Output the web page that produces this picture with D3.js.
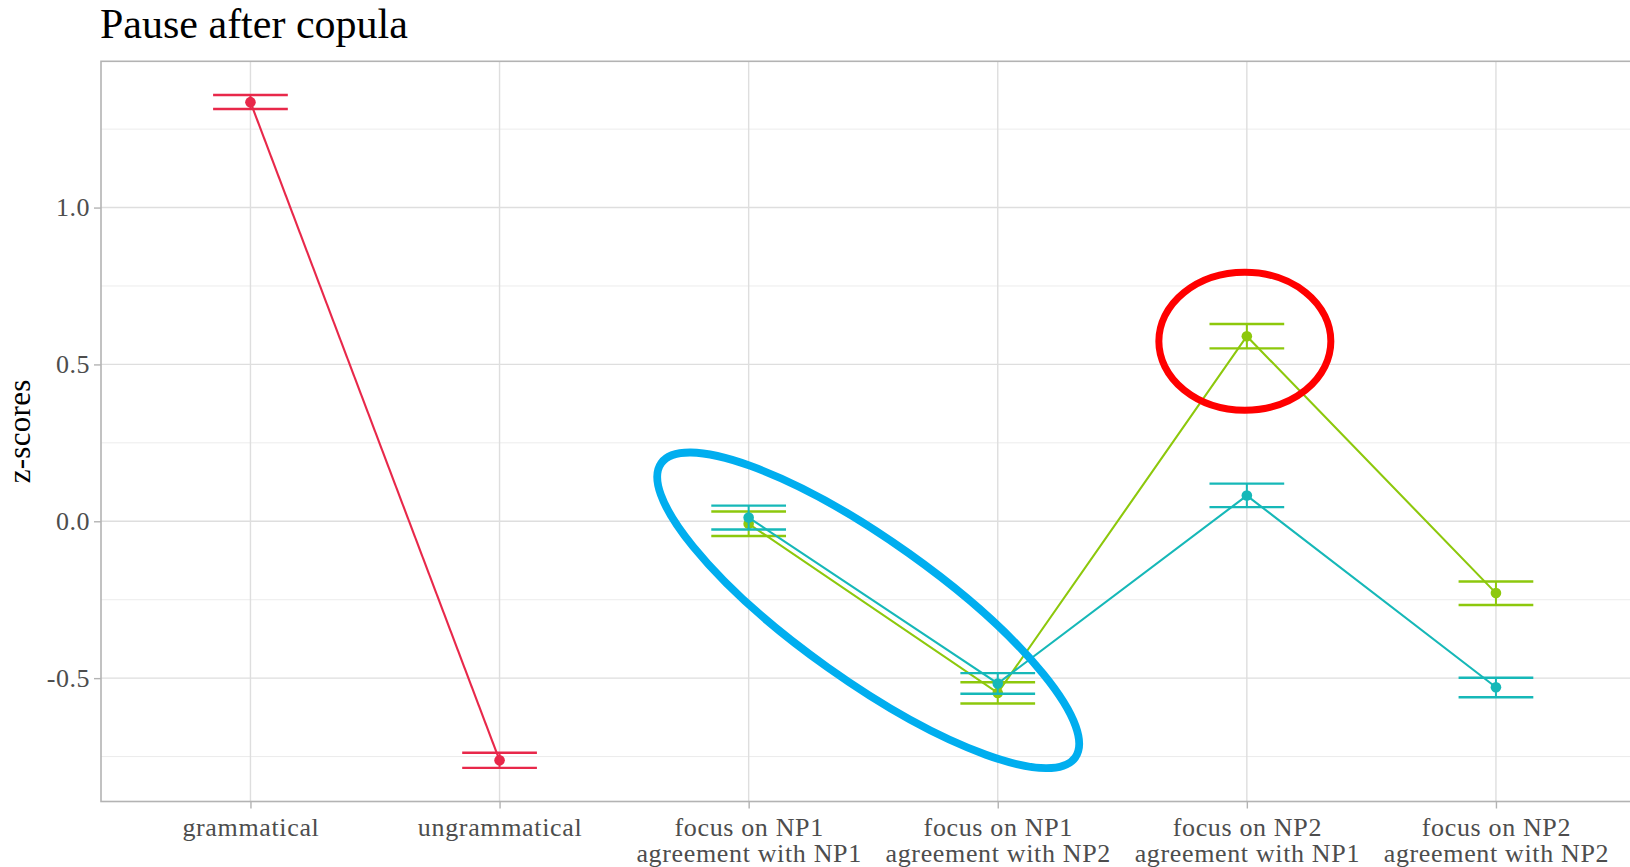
<!DOCTYPE html>
<html>
<head>
<meta charset="utf-8">
<script src="https://cdn.jsdelivr.net/npm/d3@7"></script>
<style>
  html, body { margin: 0; padding: 0; background: #fff; }
  svg { display: block; }
  text { font-family: "Liberation Serif", "DejaVu Serif", serif; }
</style>
</head>
<body>
<svg id="chart" width="1630" height="867"></svg>
<script>
// Conditions along the x axis (second line after "\n")
const categories = [
  "grammatical",
  "ungrammatical",
  "focus on NP1\nagreement with NP1",
  "focus on NP1\nagreement with NP2",
  "focus on NP2\nagreement with NP1",
  "focus on NP2\nagreement with NP2"
];

// Control conditions (red)
const controlCats  = [categories[0], categories[1]];
const controlMean  = [1.336, -0.762];
const controlLower = [1.314, -0.786];
const controlUpper = [1.359, -0.738];

// Experimental conditions
const expCats = categories.slice(2);
const greenMean  = [-0.008, -0.547, 0.590, -0.229];
const greenLower = [-0.047, -0.581, 0.551, -0.267];
const greenUpper = [ 0.031, -0.513, 0.629, -0.192];

const tealMean  = [ 0.012, -0.517, 0.082, -0.529];
const tealLower = [-0.026, -0.550, 0.045, -0.561];
const tealUpper = [ 0.050, -0.484, 0.120, -0.499];

const yTicks = [-0.5, 0.0, 0.5, 1.0];
const yMinor = [-0.75, -0.25, 0.25, 0.75, 1.25];

const colors = { control: "#E8284A", green: "#8DC80C", teal: "#16B8B8" };

function rows(cats, mean, lower, upper) {
  return cats.map((c, i) => ({ cat: c, mean: mean[i], lower: lower[i], upper: upper[i] }));
}
const series = [
  { key: "control", color: colors.control, data: rows(controlCats, controlMean, controlLower, controlUpper) },
  { key: "green",   color: colors.green,   data: rows(expCats, greenMean, greenLower, greenUpper) },
  { key: "teal",    color: colors.teal,    data: rows(expCats, tealMean, tealLower, tealUpper) }
];

const svg = d3.select("#chart");
const W = 1630;
const panel = { left: 101, top: 61.3, bottom: 801.5, right: 1645.4 };

// Discrete x with 0.6 step expansion on each side
const x = d3.scalePoint().domain(categories).range([panel.left, panel.right]).padding(0.6);

// y domain: full extent of intervals, expanded by 5%
const all = series.flatMap(s => s.data);
const lo = d3.min(all, d => d.lower), hi = d3.max(all, d => d.upper);
const pad = (hi - lo) * 0.05;
const y = d3.scaleLinear().domain([lo - pad, hi + pad]).range([panel.bottom, panel.top]);

const g = svg.append("g");

// grid
g.selectAll("line.ymin").data(yMinor).join("line")
  .attr("x1", panel.left).attr("x2", W)
  .attr("y1", d => y(d)).attr("y2", d => y(d))
  .attr("stroke", "#ececec").attr("stroke-width", 1);
g.selectAll("line.ymaj").data(yTicks).join("line")
  .attr("x1", panel.left).attr("x2", W)
  .attr("y1", d => y(d)).attr("y2", d => y(d))
  .attr("stroke", "#dedede").attr("stroke-width", 1.4);
g.selectAll("line.xmaj").data(categories).join("line")
  .attr("x1", d => x(d)).attr("x2", d => x(d))
  .attr("y1", panel.top).attr("y2", panel.bottom)
  .attr("stroke", "#dedede").attr("stroke-width", 1.4);

// panel border
g.append("rect")
  .attr("x", panel.left).attr("y", panel.top)
  .attr("width", panel.right - panel.left).attr("height", panel.bottom - panel.top)
  .attr("fill", "none").attr("stroke", "#b3b3b3").attr("stroke-width", 1.6);

// axes
const yAxis = d3.axisLeft(y).tickValues(yTicks).tickSize(7).tickPadding(4)
  .tickFormat(d => d3.format(".1f")(d).replace("−", "-"));
const ya = g.append("g").attr("transform", `translate(${panel.left},0)`).call(yAxis);
ya.select(".domain").remove();
ya.selectAll(".tick line").attr("stroke", "#b3b3b3").attr("stroke-width", 1.4);
ya.selectAll(".tick text")
  .attr("fill", "#4d4d4d").style("font-size", "26px").style("letter-spacing", "0.5px")
  .style("font-family", '"Liberation Serif", serif');

const xAxis = d3.axisBottom(x).tickSize(7).tickFormat("");
const xa = g.append("g").attr("transform", `translate(0,${panel.bottom})`).call(xAxis);
xa.select(".domain").remove();
xa.selectAll(".tick line").attr("stroke", "#b3b3b3").attr("stroke-width", 1.4);
xa.selectAll(".tick").each(function(d) {
  const lines = d.split("\n");
  const t = d3.select(this).append("text")
    .attr("fill", "#4d4d4d").attr("text-anchor", "middle")
    .style("font-size", "26px").style("letter-spacing", "0.65px")
    .style("font-family", '"Liberation Serif", serif');
  lines.forEach((ln, i) => {
    t.append("tspan").attr("x", 0).attr("y", 34 + i * 26).text(ln);
  });
});

// axis title
g.append("text")
  .attr("transform", `translate(${30},${(panel.top + panel.bottom) / 2}) rotate(-90)`)
  .attr("text-anchor", "middle").attr("fill", "#000")
  .style("font-size", "31px").style("letter-spacing", "0.3px").text("z-scores");

// title
g.append("text")
  .attr("x", panel.left - 1).attr("y", 38)
  .attr("fill", "#000").style("font-size", "42px").text("Pause after copula");

// data: error bars, lines, points
const barHalf = x.step() * 0.15;
const line = d3.line().x(d => x(d.cat)).y(d => y(d.mean));
series.forEach(s => {
  const sg = g.append("g");
  sg.append("path").datum(s.data).attr("d", line)
    .attr("fill", "none").attr("stroke", s.color).attr("stroke-width", 2.1);
  const eb = sg.selectAll("g.eb").data(s.data).join("g");
  eb.append("line")
    .attr("x1", d => x(d.cat)).attr("x2", d => x(d.cat))
    .attr("y1", d => y(d.lower)).attr("y2", d => y(d.upper))
    .attr("stroke", s.color).attr("stroke-width", 2);
  ["lower", "upper"].forEach(k => {
    eb.append("line")
      .attr("x1", d => x(d.cat) - barHalf).attr("x2", d => x(d.cat) + barHalf)
      .attr("y1", d => y(d[k])).attr("y2", d => y(d[k]))
      .attr("stroke", s.color).attr("stroke-width", 2.4);
  });
  sg.selectAll("circle").data(s.data).join("circle")
    .attr("cx", d => x(d.cat)).attr("cy", d => y(d.mean)).attr("r", 5.3)
    .attr("fill", s.color);
});

// highlight ellipses
const hiG = g.append("g").attr("fill", "none");
// around the two "focus on NP1" conditions
const bx = (x(categories[2]) + x(categories[3])) / 2 - 5;
const by = (y(greenMean[0]) + y(greenMean[1])) / 2 + 2;
hiG.append("ellipse")
  .attr("cx", 0).attr("cy", 0).attr("rx", 254).attr("ry", 70)
  .attr("transform", `translate(${bx},${by}) rotate(35.4)`)
  .attr("stroke", "#00AEEF").attr("stroke-width", 7.8);
// around "focus on NP2, agreement with NP1" (green)
hiG.append("ellipse")
  .attr("cx", x(categories[4]) - 2).attr("cy", y(greenMean[2]) + 5)
  .attr("rx", 86).attr("ry", 69)
  .attr("stroke", "#FF0000").attr("stroke-width", 7);
</script>
</body>
</html>
